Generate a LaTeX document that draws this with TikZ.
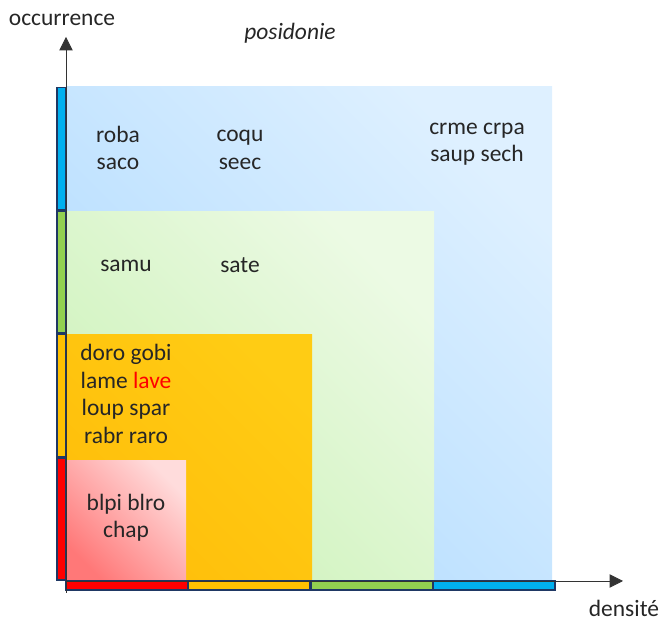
\documentclass[tikz,border=0pt]{standalone}
\usepackage{fontspec}
\setmainfont{Carlito}
\usepackage{xcolor}
\usetikzlibrary{arrows.meta, positioning}

\definecolor{barblue}{RGB}{0,176,240}
\definecolor{bargreen}{RGB}{146,208,80}
\definecolor{barorange}{RGB}{255,192,0}
\definecolor{barred}{RGB}{255,0,0}
\definecolor{barnavy}{RGB}{31,56,100}
\definecolor{bluelo}{RGB}{176,219,255}
\definecolor{bluehi}{RGB}{222,240,255}
\definecolor{greenlo}{RGB}{204,242,184}
\definecolor{greenhi}{RGB}{236,250,228}
\definecolor{orangelo}{RGB}{255,190,10}
\definecolor{orangehi}{RGB}{255,204,20}
\definecolor{redlo}{RGB}{255,120,120}
\definecolor{redhi}{RGB}{255,220,220}
\definecolor{txt}{RGB}{38,38,38}

\begin{document}
\begin{tikzpicture}[x=0.75pt, y=0.75pt]
        \tikzstyle{zone} = [shading=axis, shading angle=-45]
        \tikzstyle{bar} = [draw=barnavy, line width=1.1pt]
        \tikzstyle{lbl} = [font=\fontsize{17.6}{20.6}\selectfont, text=txt, align=center, inner sep=0pt]
        \tikzstyle{axis} = [draw, -{Triangle[length=10pt, width=10pt]}, line width=0.6pt, black!80]
        \useasboundingbox (0,0) rectangle (661,620);

        % Zones
        \shade [bottom color=bluelo, top color=bluehi, zone] (66,40) rectangle (552,533);
        \shade [bottom color=greenlo, top color=greenhi, zone] (66,40) rectangle (434,408);
        \shade [bottom color=orangelo, top color=orangehi, zone] (66,40) rectangle (312,285);
        \shade [bottom color=redlo, top color=redhi, zone] (66,40) rectangle (186,159);

        % Bars
        \foreach \c [count=\i from 0] in {barred, barorange, bargreen, barblue} {
            \filldraw [bar, fill=\c] (57,40+\i*123.5) rectangle (66,162+\i*123.5);
            \filldraw [bar, fill=\c] (66+\i*122.5,30) rectangle (187.5+\i*122.5,39);
        }

        % Axes
        \coordinate (origin) at (66,39);
        \coordinate (low) at (66,27);
        \coordinate (ytip) at (66,583);
        \coordinate (xtip) at (623,39);
        \path [axis] (low) -- (ytip);
        \path [axis] (origin) -- (xtip);

        % Nodes
        \node [lbl] (occ) at (62,600) {occurrence};
        \node [lbl, font=\fontsize{17.6}{20.6}\selectfont\itshape] (posi) at (290,587) {posidonie};
        \node [lbl] (dens) at (624,12) {densité};
        \node [lbl] (roba) at (118,472) {roba\\saco};
        \node [lbl] (coqu) at (240,470) {coqu\\seec};
        \node [lbl] (crme) at (477,476) {crme crpa\\saup sech};
        \node [lbl] (samu) at (126,354) {samu};
        \node [lbl] (sate) at (240,355) {sate};
        \node [lbl] (doro) at (126,226) {doro gobi\\lame \textcolor{red}{lave}\\loup spar\\rabr raro};
        \node [lbl] (blpi) at (126,102) {blpi blro\\chap};
    \end{tikzpicture}
\end{document}
